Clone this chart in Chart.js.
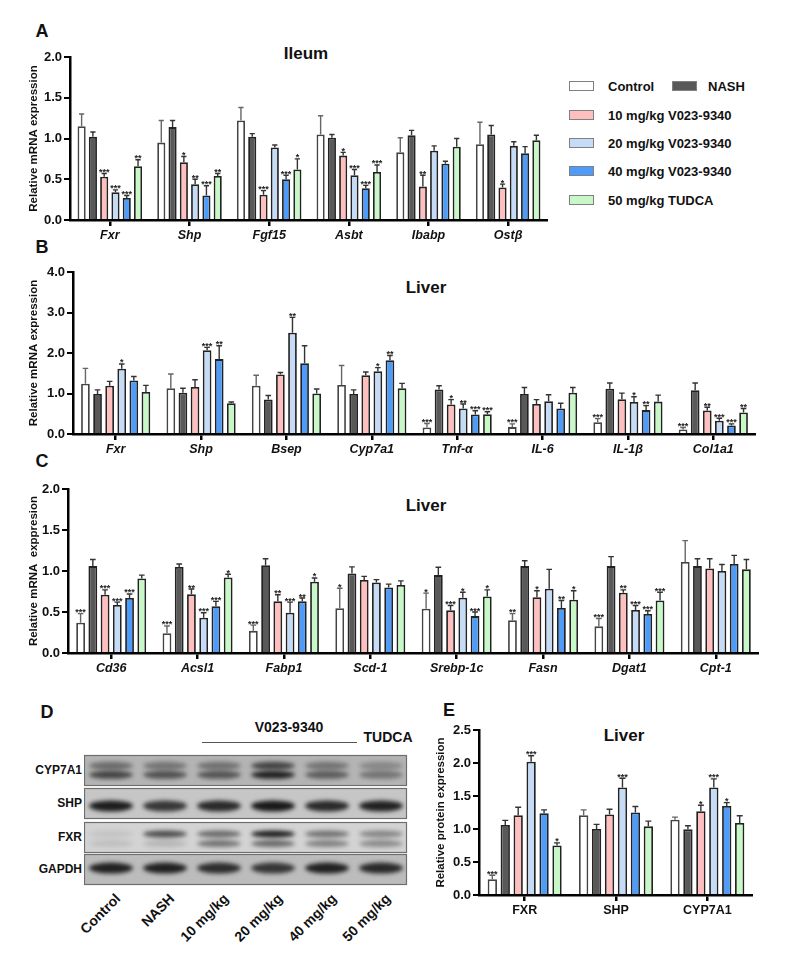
<!DOCTYPE html>
<html>
<head>
<meta charset="utf-8">
<script src="https://cdn.jsdelivr.net/npm/chart.js@4.4.1/dist/chart.umd.min.js"></script>
<style>
body { margin: 0; background: #fff; font-family: Arial, "Liberation Sans", sans-serif; }
#page { position: relative; width: 800px; height: 955px; overflow: hidden; }
.holder { position: absolute; }
.t { position: absolute; transform: translate(-50%, -50%); white-space: nowrap; font-weight: bold; line-height: 1; color: #111; }
.lg { position: absolute; font-weight: bold; font-size: 13px; line-height: 1; color: #111; white-space: nowrap; transform: translateY(-50%); }
.sw { position: absolute; width: 25px; height: 10px; border: 1px solid #808080; box-sizing: border-box; }
.lane { position: absolute; font-weight: bold; font-size: 14px; line-height: 14px; color: #111; white-space: nowrap; transform-origin: 100% 50%; transform: rotate(-45deg); }
</style>
</head>
<body>
<div id="page"></div>
<script>
// groups (same order in every panel)
const groups = ['Control', 'NASH', '10 mg/kg V023-9340', '20 mg/kg V023-9340', '40 mg/kg V023-9340', '50 mg/kg TUDCA'];
const fills = ['#ffffff', '#595959', '#ffbfbf', '#c6dcf6', '#4f9bf8', '#c8f8c8'];

// A - ileum
const ileumGenes = ['Fxr', 'Shp', 'Fgf15', 'Asbt', 'Ibabp', 'Ostβ'];
const ileumMean = [
  [1.15, 0.95, 1.22, 1.05, 0.83, 0.93],
  [1.02, 1.14, 1.02, 1.01, 1.04, 1.05],
  [0.53, 0.71, 0.31, 0.79, 0.41, 0.40],
  [0.34, 0.44, 0.89, 0.55, 0.85, 0.91],
  [0.27, 0.30, 0.50, 0.39, 0.69, 0.82],
  [0.66, 0.54, 0.62, 0.59, 0.90, 0.98]
];
const ileumErr = [
  [0.15, 0.27, 0.16, 0.23, 0.18, 0.27],
  [0.06, 0.08, 0.04, 0.04, 0.06, 0.11],
  [0.04, 0.07, 0.05, 0.04, 0.14, 0.04],
  [0.03, 0.06, 0.03, 0.07, 0.06, 0.05],
  [0.03, 0.12, 0.05, 0.035, 0.03, 0.08],
  [0.08, 0.03, 0.13, 0.085, 0.10, 0.06]
];
const ileumSig = [
  ['', '', '', '', '', ''],
  ['', '', '', '', '', ''],
  ['***', '*', '***', '*', '**', '*'],
  ['***', '**', '', '***', '', ''],
  ['***', '***', '***', '***', '', ''],
  ['**', '**', '*', '***', '', '']
];

// B - liver bile acid / inflammation genes
const liverGenes = ['Fxr', 'Shp', 'Bsep', 'Cyp7a1', 'Tnf-α', 'IL-6', 'IL-1β', 'Col1a1'];
const liverMean = [
  [1.24, 1.13, 1.19, 1.21, 0.16, 0.17, 0.29, 0.11],
  [0.99, 1.02, 0.85, 0.99, 1.10, 0.99, 1.12, 1.08],
  [1.19, 1.16, 1.47, 1.45, 0.73, 0.74, 0.86, 0.58],
  [1.61, 2.07, 2.50, 1.55, 0.63, 0.81, 0.79, 0.33],
  [1.32, 1.85, 1.75, 1.82, 0.48, 0.63, 0.59, 0.21],
  [1.04, 0.76, 1.00, 1.13, 0.49, 1.02, 0.80, 0.53]
];
const liverErr = [
  [0.38, 0.35, 0.26, 0.48, 0.10, 0.08, 0.09, 0.05],
  [0.10, 0.11, 0.10, 0.10, 0.09, 0.16, 0.14, 0.18],
  [0.11, 0.18, 0.05, 0.08, 0.12, 0.11, 0.15, 0.08],
  [0.12, 0.07, 0.38, 0.09, 0.11, 0.16, 0.13, 0.06],
  [0.10, 0.33, 0.43, 0.12, 0.095, 0.13, 0.11, 0.04],
  [0.16, 0.03, 0.11, 0.12, 0.06, 0.13, 0.16, 0.10]
];
const liverSig = [
  ['', '', '', '', '***', '***', '***', '***'],
  ['', '', '', '', '', '', '', ''],
  ['', '', '', '', '*', '', '', '**'],
  ['*', '***', '**', '*', '**', '', '*', '***'],
  ['', '**', '', '**', '***', '', '**', '***'],
  ['', '', '', '', '***', '', '', '**']
];

// C - liver lipid genes
const lipidGenes = ['Cd36', 'Acsl1', 'Fabp1', 'Scd-1', 'Srebp-1c', 'Fasn', 'Dgat1', 'Cpt-1'];
const lipidMean = [
  [0.37, 0.24, 0.27, 0.545, 0.54, 0.40, 0.325, 1.11],
  [1.06, 1.05, 1.07, 0.97, 0.95, 1.06, 1.06, 1.06],
  [0.71, 0.715, 0.63, 0.89, 0.52, 0.68, 0.735, 1.03],
  [0.585, 0.43, 0.49, 0.86, 0.675, 0.785, 0.525, 1.00],
  [0.67, 0.57, 0.63, 0.80, 0.45, 0.55, 0.475, 1.085],
  [0.91, 0.92, 0.87, 0.83, 0.69, 0.65, 0.64, 1.02]
];
const lipidErr = [
  [0.11, 0.09, 0.07, 0.245, 0.19, 0.08, 0.095, 0.26],
  [0.08, 0.035, 0.08, 0.08, 0.095, 0.065, 0.115, 0.09],
  [0.06, 0.065, 0.08, 0.045, 0.06, 0.08, 0.035, 0.12],
  [0.035, 0.06, 0.13, 0.035, 0.065, 0.235, 0.055, 0.08],
  [0.05, 0.06, 0.04, 0.04, 0.05, 0.09, 0.04, 0.105],
  [0.04, 0.04, 0.045, 0.05, 0.08, 0.11, 0.10, 0.12]
];
const lipidSig = [
  ['***', '***', '***', '*', '*', '**', '***', ''],
  ['', '', '', '', '', '', '', ''],
  ['***', '**', '**', '', '***', '*', '**', ''],
  ['***', '***', '***', '', '*', '', '***', ''],
  ['***', '***', '**', '', '***', '**', '***', ''],
  ['', '*', '*', '', '*', '*', '***', '']
];

// E - protein quantification
const proteins = ['FXR', 'SHP', 'CYP7A1'];
const proteinMean = [
  [0.24, 1.21, 1.14],
  [1.06, 1.00, 0.995],
  [1.21, 1.22, 1.27],
  [2.02, 1.63, 1.63],
  [1.24, 1.25, 1.35],
  [0.75, 1.04, 1.09]
];
const proteinErr = [
  [0.06, 0.08, 0.04],
  [0.07, 0.07, 0.055],
  [0.12, 0.08, 0.09],
  [0.09, 0.14, 0.13],
  [0.05, 0.09, 0.05],
  [0.04, 0.08, 0.11]
];
const proteinSig = [
  ['***', '', ''],
  ['', '', ''],
  ['', '', '*'],
  ['***', '***', '***'],
  ['', '', '*'],
  ['*', '', '']
];

// D - western blot band strength per lane (0..1)
const blotRows = ['CYP7A1', 'SHP', 'FXR', 'GAPDH'];
const lanes = ['Control', 'NASH', '10 mg/kg', '20 mg/kg', '40 mg/kg', '50 mg/kg'];
const bandUpper = [
  [0.45, 0.40, 0.42, 0.70, 0.40, 0.28],
  [0, 0, 0, 0, 0, 0],
  [0.08, 0.70, 0.55, 0.95, 0.50, 0.40],
  [0, 0, 0, 0, 0, 0]
];
const bandLower = [
  [0.70, 0.62, 0.60, 0.92, 0.55, 0.40],
  [0.95, 0.80, 0.88, 0.97, 0.88, 0.92],
  [0.10, 0.15, 0.50, 0.55, 0.42, 0.38],
  [0.92, 0.92, 0.85, 0.80, 0.92, 0.88]
];

const page = document.getElementById('page');

function text(str, x, y, size, extra) {
  const d = document.createElement('div');
  d.className = 't';
  d.textContent = str;
  d.style.left = x + 'px';
  d.style.top = y + 'px';
  d.style.fontSize = size + 'px';
  if (extra) d.style.cssText += extra;
  page.appendChild(d);
  return d;
}

const errorBars = {
  id: 'errorBars',
  afterDatasetsDraw(chart) {
    const ctx = chart.ctx;
    const y = chart.scales.y;
    chart.data.datasets.forEach((ds, i) => {
      chart.getDatasetMeta(i).data.forEach((bar, j) => {
        const top = y.getPixelForValue(ds.data[j] + ds.err[j]);
        const half = bar.width * 0.32;
        ctx.save();
        ctx.strokeStyle = i === 0 ? '#666' : '#333';
        ctx.lineWidth = 1.4;
        ctx.beginPath();
        ctx.moveTo(bar.x, bar.y);
        ctx.lineTo(bar.x, top);
        ctx.moveTo(bar.x - half, top);
        ctx.lineTo(bar.x + half, top);
        ctx.stroke();
        if (ds.sig[j]) {
          ctx.fillStyle = '#222';
          ctx.font = 'bold 9px Arial, "Liberation Sans"';
          ctx.textAlign = 'center';
          ctx.textBaseline = 'alphabetic';
          ctx.fillText(ds.sig[j], bar.x, top + 1.5);
        }
        ctx.restore();
      });
    });
  }
};

function makeChart(box, labels, mean, err, sig, yMax, step, yTitle, italic) {
  const holder = document.createElement('div');
  holder.className = 'holder';
  holder.style.left = box.left + 'px';
  holder.style.top = box.top + 'px';
  const cv = document.createElement('canvas');
  cv.width = box.width;
  cv.height = box.height;
  holder.appendChild(cv);
  page.appendChild(holder);

  const datasets = groups.map((g, i) => ({
    label: g,
    data: mean[i],
    err: err[i],
    sig: sig[i],
    backgroundColor: fills[i],
    borderColor: i === 0 ? '#444' : '#222',
    borderWidth: 1.8,
    categoryPercentage: 0.85,
    barPercentage: 0.72
  }));

  return new Chart(cv, {
    type: 'bar',
    data: { labels: labels, datasets: datasets },
    plugins: [errorBars],
    options: {
      responsive: false,
      animation: false,
      layout: { padding: { top: box.pt, right: 0, left: 0, bottom: 0 } },
      plugins: { legend: { display: false }, tooltip: { enabled: false }, title: { display: false } },
      scales: {
        x: {
          afterFit: s => { s.height = box.xh; },
          grid: { offset: false, drawOnChartArea: false, tickLength: 6, color: '#000', lineWidth: 2.5 },
          border: { color: '#000', width: 2.5 },
          ticks: {
            color: '#111', padding: 2,
            font: { family: 'Arial, "Liberation Sans"', size: 12.5, weight: 'bold', style: italic ? 'italic' : 'normal' }
          }
        },
        y: {
          min: 0, max: yMax,
          afterFit: s => { s.width = box.yw; },
          grid: { drawOnChartArea: false, tickLength: 6, color: '#000', lineWidth: 2 },
          border: { color: '#000', width: 2.5 },
          ticks: {
            stepSize: step, color: '#111', padding: 2,
            callback: v => v.toFixed(1),
            font: { family: 'Arial, "Liberation Sans"', size: 13, weight: 'bold' }
          },
          title: {
            display: true, text: yTitle, color: '#111', padding: { top: 3, bottom: 2 },
            font: { family: 'Arial, "Liberation Sans"', size: 11.5, weight: 'bold' }
          }
        }
      }
    }
  });
}

// panel letters and titles
text('A', 42, 31, 18);
text('B', 42, 247, 18);
text('C', 42, 461, 18);
text('D', 47, 712, 18);
text('E', 449, 710, 18);
text('Ileum', 306, 53, 17);
text('Liver', 426, 287, 17);
text('Liver', 426, 505, 17);
text('Liver', 624, 735, 17);

makeChart({ left: 24, top: 40, width: 524, height: 205, yw: 46, pt: 17, xh: 25 },
  ileumGenes, ileumMean, ileumErr, ileumSig, 2, 0.5, 'Relative mRNA expression', true);
makeChart({ left: 24, top: 255, width: 732, height: 204, yw: 49, pt: 17, xh: 25 },
  liverGenes, liverMean, liverErr, liverSig, 4, 1, 'Relative mRNA expression', true);
makeChart({ left: 24, top: 472, width: 735, height: 206, yw: 44, pt: 17, xh: 25 },
  lipidGenes, lipidMean, lipidErr, lipidSig, 2, 0.5, 'Relative mRNA  exppresion', true);
makeChart({ left: 431, top: 713, width: 322, height: 207, yw: 48, pt: 17, xh: 25 },
  proteins, proteinMean, proteinErr, proteinSig, 2.5, 0.5, 'Relative protein expression', false);

// legend for panel A
const legendRows = [[0, 1], [2], [3], [4], [5]];
const legendY = [86, 115, 143, 171, 200];
legendRows.forEach((row, r) => {
  row.forEach((gi, c) => {
    const sw = document.createElement('div');
    sw.className = 'sw';
    sw.style.left = (c === 0 ? 569 : 672) + 'px';
    sw.style.top = (legendY[r] - 5) + 'px';
    sw.style.background = fills[gi];
    page.appendChild(sw);
    const lb = document.createElement('div');
    lb.className = 'lg';
    lb.textContent = groups[gi];
    lb.style.left = (c === 0 ? 608 : 708) + 'px';
    lb.style.top = legendY[r] + 'px';
    page.appendChild(lb);
  });
});

// panel D: western blot
const blotLeft = 84, blotTop = 753, laneW = 54;
const rowTop = [2, 35, 69, 101];
const rowH = 30;
const rowBg = ['#b4b4b4', '#c6c6c6', '#d3d3d3', '#bcbcbc'];
const upperY = [0.36, 0, 0.4, 0];
const lowerY = [0.66, 0.6, 0.72, 0.47];
const bandH = [6, 9, 5, 9];

const bc = document.createElement('canvas');
bc.width = 326; bc.height = 136;
bc.style.position = 'absolute';
bc.style.left = blotLeft + 'px';
bc.style.top = blotTop + 'px';
page.appendChild(bc);
const bx = bc.getContext('2d');
blotRows.forEach((name, r) => {
  const y0 = rowTop[r];
  bx.fillStyle = rowBg[r];
  bx.fillRect(0, y0, 323, rowH);
  lanes.forEach((ln, k) => {
    const cx = laneW * (k + 0.5);
    [[bandUpper[r][k], upperY[r]], [bandLower[r][k], lowerY[r]]].forEach(([v, fy]) => {
      if (!v) return;
      bx.save();
      bx.filter = 'blur(2.2px)';
      bx.fillStyle = 'rgba(20,20,20,' + v + ')';
      bx.beginPath();
      bx.ellipse(cx, y0 + rowH * fy, 22, bandH[r] / 2 + 1, 0, 0, Math.PI * 2);
      bx.fill();
      bx.restore();
    });
  });
  bx.strokeStyle = '#6e6e6e';
  bx.lineWidth = 1.2;
  bx.strokeRect(0.5, y0 + 0.5, 322, rowH);
  text(name, 0, blotTop + y0 + rowH / 2, 12, 'transform:translate(-100%,-50%);left:82px;');
});

text('V023-9340', 289, 727, 14);
text('TUDCA', 388, 737, 14);
const bar = document.createElement('div');
bar.style.cssText = 'position:absolute;left:202px;top:742px;width:155px;height:1px;background:#555;';
page.appendChild(bar);

lanes.forEach((ln, k) => {
  const d = document.createElement('div');
  d.className = 'lane';
  d.textContent = ln;
  const xr = blotLeft + laneW * (k + 0.5) + 7;
  d.style.right = (800 - xr) + 'px';
  d.style.top = (896 - 7) + 'px';
  page.appendChild(d);
});
</script>
</body>
</html>
